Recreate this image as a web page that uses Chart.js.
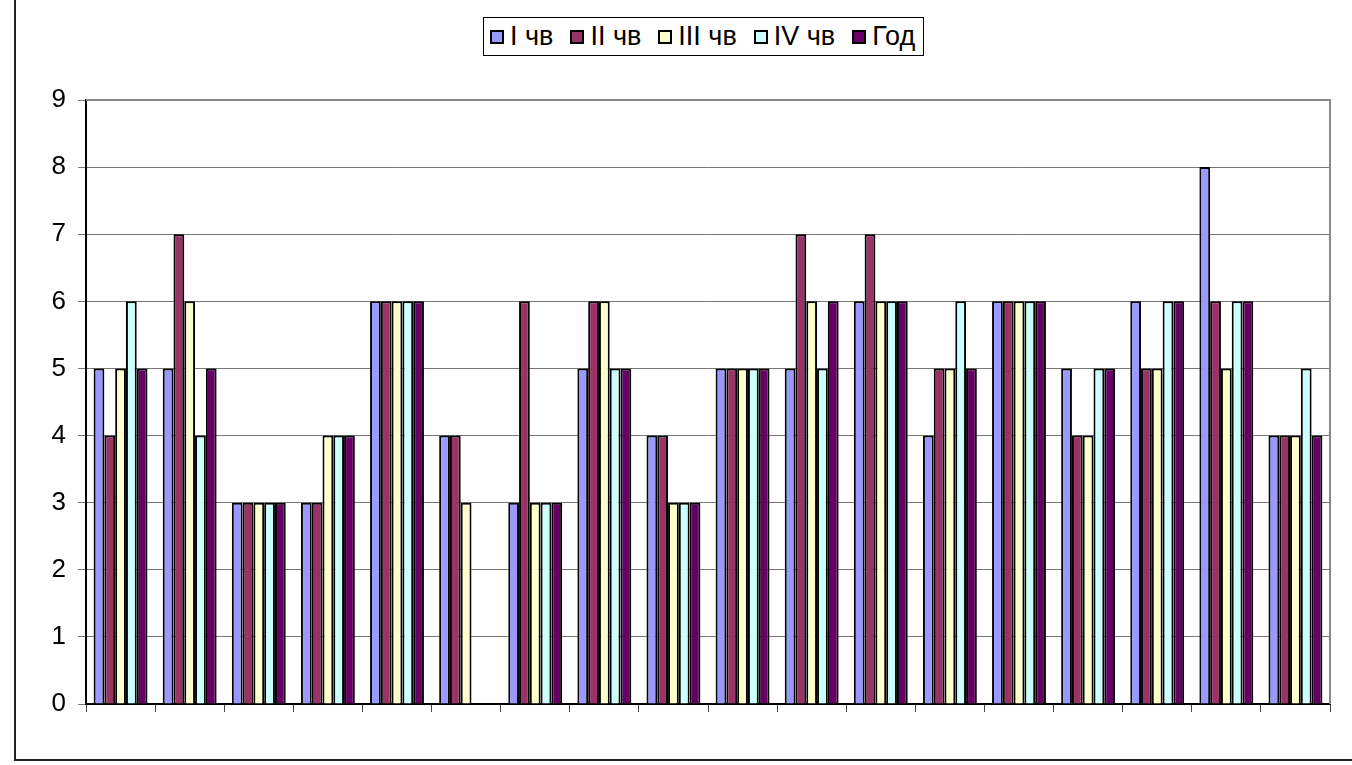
<!DOCTYPE html>
<html>
<head>
<meta charset="utf-8">
<script src="https://cdn.jsdelivr.net/npm/chart.js@4"></script>
<style>
  html, body { margin: 0; padding: 0; background: #fff; }
  #wrap { position: relative; width: 1352px; height: 765px; }
  #legend {
    position: absolute; left: 483px; top: 17px; width: 441px; height: 39px;
    border: 1px solid #000; box-sizing: border-box; background: #fff;
    font-family: "Liberation Sans", Arial, sans-serif; font-size: 27px; color: #000;
    display: flex; align-items: center; padding-left: 6px; white-space: nowrap;
  }
  .item { display: flex; align-items: center; margin-right: 17px; }
  .item:last-child { margin-right: 0; }
  .sw { width: 14px; height: 14px; border: 2px solid #000; margin-right: 6px; box-sizing: border-box; }
</style>
</head>
<body>
<div id="wrap">
  <canvas id="c" width="1352" height="765"></canvas>
  <div id="legend"></div>
</div>
<script>
const categories = ['1','2','3','4','5','6','7','8','9','10','11','12','13','14','15','16','17','18'];
const seriesNames = ['I чв', 'II чв', 'III чв', 'IV чв', 'Год'];
const seriesColors = ['#9999FF', '#993366', '#FFFFCC', '#CCFFFF', '#660066'];
const q1   = [5, 5, 3, 3, 6, 4, 3, 5, 4, 5, 5, 6, 4, 6, 5, 6, 8, 4];
const q2   = [4, 7, 3, 3, 6, 4, 6, 6, 4, 5, 7, 7, 5, 6, 4, 5, 6, 4];
const q3   = [5, 6, 3, 4, 6, 3, 3, 6, 3, 5, 6, 6, 5, 6, 4, 5, 5, 4];
const q4   = [6, 4, 3, 4, 6, null, 3, 5, 3, 5, 5, 6, 6, 6, 5, 6, 6, 5];
const year = [5, 5, 3, 4, 6, null, 3, 5, 3, 5, 6, 6, 5, 6, 5, 6, 6, 4];
const yTicks = [0, 1, 2, 3, 4, 5, 6, 7, 8, 9];

const seriesData = [q1, q2, q3, q4, year];

const legendEl = document.getElementById('legend');
seriesNames.forEach((n, i) => {
  const it = document.createElement('div');
  it.className = 'item';
  const sw = document.createElement('div');
  sw.className = 'sw';
  sw.style.background = seriesColors[i];
  const tx = document.createElement('span');
  tx.textContent = n;
  it.appendChild(sw); it.appendChild(tx);
  legendEl.appendChild(it);
});

const framePlugin = {
  id: 'frame',
  beforeDraw(chart) {
    const ctx = chart.ctx;
    ctx.save();
    ctx.fillStyle = '#fff';
    ctx.fillRect(0, 0, chart.width, chart.height);
    ctx.restore();
  },
  afterDraw(chart) {
    const ctx = chart.ctx;
    const a = chart.chartArea;
    ctx.save();
    ctx.strokeStyle = '#888';
    ctx.lineWidth = 2;
    ctx.beginPath();
    ctx.moveTo(a.left, a.top);
    ctx.lineTo(a.right, a.top);
    ctx.lineTo(a.right, a.bottom);
    ctx.stroke();
    ctx.strokeStyle = '#222';
    ctx.lineWidth = 2;
    ctx.beginPath();
    ctx.moveTo(15, 0);
    ctx.lineTo(15, 760);
    ctx.lineTo(chart.width + 5, 760);
    ctx.stroke();
    ctx.restore();
  }
};

new Chart(document.getElementById('c'), {
  type: 'bar',
  data: {
    labels: categories,
    datasets: seriesNames.map((n, i) => ({
      label: n,
      data: seriesData[i],
      backgroundColor: seriesColors[i],
      borderColor: '#000',
      borderWidth: 2,
      borderSkipped: 'bottom',
      barPercentage: 1.0,
      categoryPercentage: 0.78
    }))
  },
  options: {
    responsive: false,
    animation: false,
    devicePixelRatio: 1,
    layout: { padding: { top: 100, right: 22, left: 0, bottom: 0 } },
    plugins: { legend: { display: false }, tooltip: { enabled: false } },
    scales: {
      x: {
        offset: true,
        grid: { offset: true, drawOnChartArea: false, drawTicks: true, tickLength: 8, color: '#444', lineWidth: 1 },
        border: { color: '#000', width: 2 },
        ticks: { display: false },
        afterFit(s) { s.height = 61; }
      },
      y: {
        min: 0, max: 9,
        afterBuildTicks(s) { s.ticks = yTicks.map(v => ({ value: v })); },
        grid: { color: '#777', lineWidth: 1, tickLength: 8 },
        border: { color: '#000', width: 2 },
        ticks: {
          padding: 12,
          color: '#000',
          font: { family: '"Liberation Sans", Arial, sans-serif', size: 26 }
        },
        afterFit(s) { s.width = 86; }
      }
    }
  },
  plugins: [framePlugin]
});
</script>
</body>
</html>
